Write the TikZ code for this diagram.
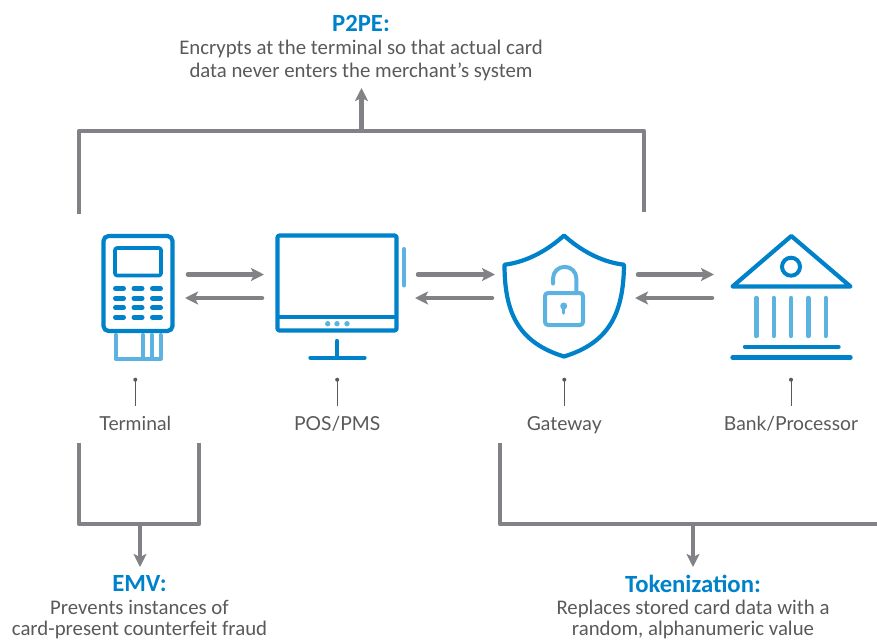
\documentclass[tikz,border=0pt]{standalone}
\usepackage{fontspec}
\setmainfont{Carlito}
\newfontfamily\labelfont{Lato}
\usetikzlibrary{arrows.meta}
\definecolor{ibl}{HTML}{0082CA}
\definecolor{ilt}{HTML}{5CB2E0}
\definecolor{agr}{HTML}{808285}
\definecolor{txt}{HTML}{58595B}
\tikzset{
 x=1pt,y=-1pt,
 dk/.style={draw=ibl,line width=4.2pt,line join=round,line cap=round},
 lt/.style={draw=ilt,line width=4pt,line join=round,line cap=round},
 flow/.style={draw=agr,line width=4.5pt,line cap=round,-{Stealth[length=13pt,width=13pt,inset=3pt]}},
 brk/.style={draw=agr,line width=4.5pt,line join=round},
 pinline/.style={draw=txt,line width=1pt},
 caption/.style={font=\labelfont\fontsize{19.3}{20}\selectfont,text=txt,inner sep=0pt,anchor=base},
 head/.style={font=\bfseries\fontsize{24.7}{24}\selectfont,text=ibl,inner sep=0pt,anchor=center},
 body/.style={font=\fontsize{20.8}{23}\selectfont,text=txt,inner sep=0pt,anchor=center,align=center},
}
\begin{document}
\begin{tikzpicture}
\useasboundingbox (0,0) rectangle (877,640);
% terminal
\draw[lt] (115.5,335) -- (115.5,358.5) -- (160.5,358.5) -- (160.5,335);
\draw[lt] (143,335) -- (143,358.5) (151.5,335) -- (151.5,358.5);
\draw[dk,fill=white,rounded corners=5pt] (103.5,236) rectangle (172.5,331);
\draw[dk,line width=3.6pt,rounded corners=2pt] (115,248) rectangle (161,275.5);
\foreach \y in {288.5,298.3,307.7,317.3}{
 \foreach \x in {115.5,134,152.5}{
  \draw[dk,line width=5pt] (\x,\y) -- ++(8,0);
 }}
% monitor
\draw[dk,rounded corners=2pt] (277.5,235.5) rectangle (396.5,330.5);
\draw[dk,line cap=butt] (277.5,316.7) -- (396.5,316.7);
\fill[ilt] (327.7,323.7) circle (2.7) (337,323.7) circle (2.7) (347,323.7) circle (2.7);
\draw[dk,line width=4.4pt] (337,341) -- (337,357.5) (310.5,357.8) -- (364.5,357.8);
\draw[lt] (404.3,249) -- (404.3,285.5);
% shield
\draw[dk,line cap=butt] (564,235.5) .. controls (548,250) and (527,262) .. (504.5,264.7)
 .. controls (504.5,315) and (520,343) .. (564,356.5)
 .. controls (608,343) and (623.5,315) .. (624,264.7)
 .. controls (601,262) and (580,250) .. (564,235.5) -- cycle;
% lock
\draw[lt,rounded corners=3pt] (545,293) rectangle (583,325);
\draw[lt] (553,283.5) -- (553,278.5) arc[start angle=180,end angle=360,radius=11.7] -- (576.4,291);
\fill[ilt] (563.7,306) circle (3.5);
\draw[lt,line width=3.5pt] (563.7,306) -- (563.7,313);
% bank
\draw[dk] (791.3,236) -- (732.5,286.5) -- (850.5,286.5) -- cycle;
\draw[dk,line width=4pt] (791,266.7) circle (9);
\foreach \x in {756.3,773.7,791,808.3,825.7}{\draw[lt,line width=4.4pt] (\x,298) -- (\x,336);}
\draw[dk,line width=4.4pt] (745,346.7) -- (838.5,346.7) (732.5,357.5) -- (850.5,357.5);
% pins
\foreach \n/\x in {a/135.3,b/337.2,c/564.3,d/791}{
 \coordinate (pin\n) at (\x,379.7);
 \coordinate (pinend\n) at (\x,406);
 \fill[txt] (pin\n) circle (2);
 \draw[pinline] (pin\n) -- (pinend\n);
}
% labels
\node[caption] (lterm) at (135.3,430) {Terminal};
\node[caption] (lpos) at (337.2,430) {POS/PMS};
\node[caption] (lgate) at (564.3,430) {Gateway};
\node[caption] (lbank) at (791,430) {Bank/Processor};
% flows
\foreach \n/\xa/\xb/\xc/\xd in {p/188/264/262/185,q/418/495/492/415,r/638/714/712/635}{
 \coordinate (\n1) at (\xa,274.5); \coordinate (\n2) at (\xb,274.5);
 \coordinate (\n3) at (\xc,298); \coordinate (\n4) at (\xd,298);
 \draw[flow] (\n1) -- (\n2);
 \draw[flow] (\n3) -- (\n4);
}
% brackets
\coordinate (t1) at (79,214); \coordinate (t2) at (79,131); \coordinate (t3) at (644,131); \coordinate (t4) at (644,212);
\coordinate (tm) at (361.5,131); \coordinate (ta) at (361.5,88);
\draw[brk] (t1) -- (t2) -- (t3) -- (t4);
\draw[flow,line cap=butt] (tm) -- (ta);
\coordinate (e1) at (79,443); \coordinate (e2) at (79,524); \coordinate (e3) at (199,524); \coordinate (e4) at (199,443);
\coordinate (em) at (140,524); \coordinate (ea) at (140,567);
\draw[brk] (e1) -- (e2) -- (e3) -- (e4);
\draw[flow,line cap=butt] (em) -- (ea);
\coordinate (k1) at (500,443); \coordinate (k2) at (500,524); \coordinate (k3) at (877,524);
\coordinate (km) at (693,524); \coordinate (ka) at (693,567);
\draw[brk] (k1) -- (k2) -- (k3);
\draw[flow,line cap=butt] (km) -- (ka);
% text
\node[head] (hp) at (361,23.5) {P2PE:};
\node[body] (bp) at (361,60) {Encrypts at the terminal so that actual card\\data never enters the merchant’s system};
\node[head] (he) at (139.5,584) {EMV:};
\node[body] (be) at (139.5,619.5) {Prevents instances of\\[-1.5pt]card-present counterfeit fraud};
\node[head] (hk) at (693,584) {Tokenization:};
\node[body] (bk) at (693,619.5) {Replaces stored card data with a\\[-1.5pt]random, alphanumeric value};
\end{tikzpicture}
\end{document}
